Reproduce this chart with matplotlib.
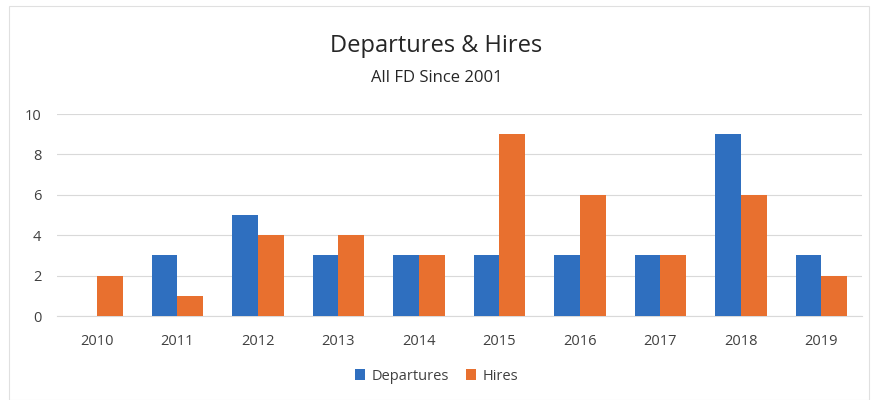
import numpy as np
import matplotlib
matplotlib.use("Agg")
import matplotlib.pyplot as plt
from matplotlib.patches import Rectangle

years = ["2010", "2011", "2012", "2013", "2014", "2015", "2016", "2017", "2018", "2019"]
departures = [0, 3, 5, 3, 3, 3, 3, 3, 9, 3]
hires = [2, 1, 4, 4, 3, 9, 6, 3, 6, 2]

plt.rcParams['font.family'] = ['Open Sans', 'DejaVu Sans']

fig = plt.figure(figsize=(8.73, 4.0), dpi=100)
ax = fig.add_axes([0.065, 0.21, 0.922, 0.505])

x = np.arange(len(years))
w = 0.32
ax.bar(x - w / 2, departures, w, color='#2f6fbf', label='Departures', zorder=3)
ax.bar(x + w / 2, hires, w, color='#e8702f', label='Hires', zorder=3)

ax.set_xlim(-0.5, len(years) - 0.5)
ax.set_ylim(0, 10)
ax.set_yticks([0, 2, 4, 6, 8, 10])
ax.set_xticks(x)
ax.set_xticklabels(years)
ax.yaxis.grid(True, color='#d9d9d9', linewidth=0.8, zorder=0)
for s in ['top', 'right', 'left']:
    ax.spines[s].set_visible(False)
ax.spines['bottom'].set_color('#d9d9d9')
ax.tick_params(axis='both', length=0, labelsize=10.5, colors='#404040')
ax.tick_params(axis='x', pad=13)
ax.tick_params(axis='y', pad=11)

fig.text(0.5, 0.885, "Departures & Hires", ha='center', va='center', fontsize=17, color='#262626')
fig.text(0.5, 0.805, "All FD Since 2001", ha='center', va='center', fontsize=12, color='#262626')

fig.legend(loc='center', bbox_to_anchor=(0.5, 0.06), ncol=2, frameon=False,
           fontsize=10.5, handlelength=0.7, handleheight=0.7, columnspacing=1.2,
           handletextpad=0.4, labelcolor='#404040')

fig.patches.append(Rectangle((0.01, 0.0), 0.985, 0.985, transform=fig.transFigure,
                             fill=False, edgecolor='#e0e0e0', linewidth=0.8))

fig.savefig("out.png", dpi=100)
